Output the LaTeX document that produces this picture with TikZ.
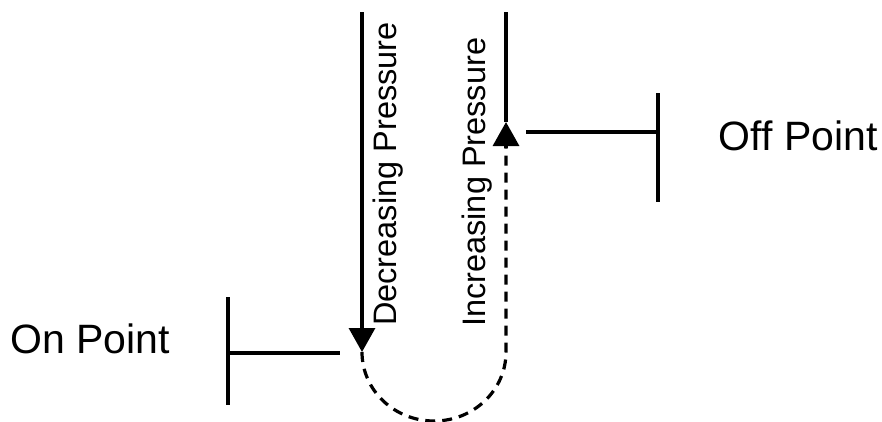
\documentclass[tikz,border=0pt]{standalone}
\usepackage{fontspec}
\setmainfont{Liberation Sans}[Ligatures=NoCommon]
\usetikzlibrary{arrows.meta,calc}
\tikzset{
  wire/.style={line width=3.2pt},
  dashwire/.style={line width=3.2pt, dash pattern=on 10pt off 7pt},
  tipped/.style={line width=3.2pt, -{Triangle[width=26pt,length=24pt]}},
  pointlabel/.style={anchor=base west, inner sep=0pt, font=\fontsize{41}{48}\selectfont},
  sidelabel/.style={anchor=base west, inner sep=0pt, rotate=90, font=\fontsize{32.5}{40}\selectfont}
}
\begin{document}
\begin{tikzpicture}[x=1pt,y=-1pt]
  \useasboundingbox (0,0) rectangle (882,421);

  % falling branch
  \coordinate (dtop) at (362,12);
  \coordinate (don)  at (362,352);
  % rising branch
  \coordinate (utop) at (506,12);
  \coordinate (utip) at (506,122);
  \coordinate (ubase) at (506,148);

  % set-point markers
  \coordinate (onbar) at (228,353);
  \coordinate (onend) at (340,353);
  \coordinate (offbar) at (658,132);
  \coordinate (offend) at (526,132);

  % labels (the kern keeps the two f's apart)
  \node[pointlabel] (on)  at (10,353)  {On Point};
  \node[pointlabel] (off) at (718,150) {Of\kern0pt f Point};
  \node[sidelabel] (dec) at (396,326) {Decreasing Pressure};
  \node[sidelabel] (inc) at (485,327) {Increasing Pressure};

  % decreasing pressure
  \draw[tipped] (dtop) -- (don);

  % return loop, dashed
  \draw[dashwire] (don) arc[start angle=180, end angle=0, x radius=72, y radius=69] -- (ubase);
  \draw[tipped] (ubase) -- (utip);
  \draw[wire] (utip) -- (utop);

  % On Point marker
  \draw[wire] (onbar) -- (onend);
  \draw[wire] ($(onbar)+(0,-56)$) -- ($(onbar)+(0,52)$);

  % Off Point marker
  \draw[wire] (offend) -- (offbar);
  \draw[wire] ($(offbar)+(0,-39)$) -- ($(offbar)+(0,70)$);
\end{tikzpicture}
\end{document}
